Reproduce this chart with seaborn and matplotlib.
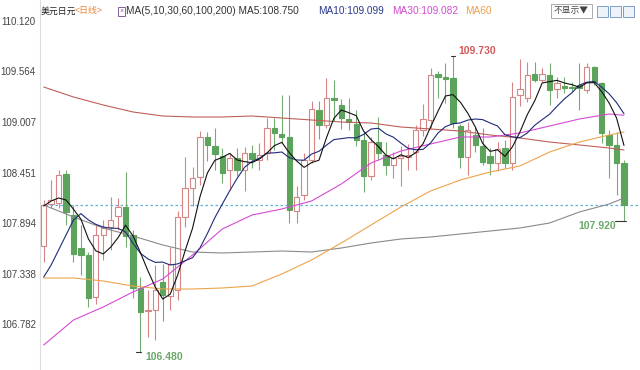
import numpy as np
import matplotlib
matplotlib.use("Agg")
import matplotlib.pyplot as plt
import seaborn as sns
from matplotlib.patches import Rectangle

# daily USD/JPY candles
opens = [107.644, 108.106, 108.117, 108.436, 107.985, 107.622, 107.545, 107.083, 107.765, 107.853,
         107.974, 108.073, 107.765, 107.182, 106.929, 106.940, 107.248, 107.094, 107.160, 107.963,
         108.282, 108.403, 108.843, 108.744, 108.634, 108.480, 108.612, 108.480, 108.667, 108.590,
         108.667, 108.942, 108.876, 108.843, 108.029, 108.205, 108.590, 109.140, 108.975, 109.272,
         109.195, 109.041, 108.986, 108.810, 108.414, 108.788, 108.645, 108.535, 108.612, 108.623,
         108.678, 108.920, 109.030, 109.536, 109.503, 109.492, 108.964, 108.623, 108.865, 108.744,
         108.634, 108.557, 108.722, 108.557, 109.305, 109.272, 109.536, 109.470, 109.525, 109.371,
         109.404, 109.393, 109.415, 109.360, 109.613, 109.437, 108.865, 108.755, 108.557]
closes = [108.095, 108.150, 108.425, 108.018, 107.556, 107.545, 107.072, 107.765, 107.842, 107.930,
          108.073, 107.754, 107.182, 106.918, 106.940, 107.160, 107.105, 107.446, 107.963, 108.282,
          108.392, 108.843, 108.755, 108.656, 108.447, 108.612, 108.480, 108.667, 108.601, 108.645,
          108.942, 108.887, 108.843, 108.040, 108.183, 108.590, 109.151, 108.975, 109.272, 109.250,
          109.052, 109.008, 108.810, 108.414, 108.788, 108.667, 108.535, 108.612, 108.634, 108.645,
          108.920, 109.041, 109.525, 109.503, 109.481, 108.997, 108.623, 108.920, 108.755, 108.568,
          108.557, 108.711, 108.557, 109.283, 109.371, 109.525, 109.470, 109.536, 109.360, 109.437,
          109.382, 109.382, 109.382, 109.613, 109.448, 108.887, 108.755, 108.557, 108.095]
highs = [108.150, 108.370, 108.480, 108.480, 108.095, 107.875, 107.578, 107.875, 107.930, 108.183,
         108.172, 108.458, 107.820, 107.303, 107.160, 107.435, 107.446, 107.633, 108.029, 108.623,
         108.513, 108.909, 108.898, 108.942, 108.722, 108.667, 108.722, 108.733, 108.755, 108.777,
         109.052, 109.052, 109.305, 109.305, 108.304, 108.667, 109.239, 109.239, 109.492, 109.470,
         109.261, 109.272, 109.140, 108.898, 108.843, 109.063, 108.788, 108.678, 108.744, 108.766,
         108.975, 109.206, 109.602, 109.569, 109.657, 109.730, 108.986, 109.008, 108.953, 108.942,
         108.722, 108.788, 108.810, 109.448, 109.701, 109.668, 109.668, 109.602, 109.657, 109.503,
         109.503, 109.448, 109.657, 109.657, 109.624, 109.448, 108.920, 108.898, 108.590]
lows = [107.468, 108.062, 108.062, 107.875, 107.468, 107.325, 106.973, 107.006, 107.490, 107.600,
        107.820, 107.633, 107.072, 106.480, 106.643, 106.610, 106.819, 106.940, 107.050, 107.853,
        108.084, 108.315, 108.579, 108.480, 108.337, 108.260, 108.414, 108.249, 108.502, 108.480,
        108.590, 108.700, 108.777, 107.897, 107.897, 108.150, 108.557, 108.821, 108.942, 109.019,
        108.931, 108.920, 108.744, 108.238, 108.370, 108.590, 108.425, 108.392, 108.304, 108.480,
        108.480, 108.854, 108.942, 109.272, 109.217, 108.942, 108.502, 108.425, 108.678, 108.535,
        108.425, 108.469, 108.502, 108.480, 109.184, 109.228, 109.448, 109.448, 109.195, 109.272,
        109.327, 109.338, 109.140, 109.327, 109.415, 108.777, 108.392, 108.205, 107.920]

# moving averages read at every candle
ma5 = [108.084, 108.139, 108.172, 108.150, 108.049, 107.939, 107.723, 107.591, 107.556, 107.631,
       107.736, 107.873, 107.756, 107.571, 107.373, 107.191, 107.061, 107.114, 107.323, 107.591,
       107.838, 108.185, 108.447, 108.586, 108.619, 108.663, 108.590, 108.572, 108.561, 108.601,
       108.667, 108.748, 108.784, 108.671, 108.579, 108.509, 108.561, 108.588, 108.834, 109.048,
       109.140, 109.111, 109.078, 108.907, 108.814, 108.737, 108.643, 108.603, 108.647, 108.619,
       108.669, 108.770, 108.953, 109.127, 109.294, 109.309, 109.226, 109.105, 108.955, 108.773,
       108.685, 108.702, 108.630, 108.735, 108.896, 109.089, 109.241, 109.437, 109.452, 109.466,
       109.437, 109.419, 109.389, 109.439, 109.441, 109.342, 109.217, 109.052, 108.750]
ma10 = [107.303, 107.435, 107.600, 107.765, 107.930, 108.000, 107.931, 107.882, 107.853, 107.840,
        107.838, 107.798, 107.674, 107.564, 107.502, 107.464, 107.467, 107.435, 107.447, 107.482,
        107.515, 107.623, 107.781, 107.955, 108.105, 108.251, 108.388, 108.510, 108.574, 108.610,
        108.665, 108.669, 108.678, 108.616, 108.590, 108.588, 108.655, 108.686, 108.753, 108.814,
        108.825, 108.836, 108.833, 108.871, 108.931, 108.939, 108.877, 108.841, 108.777, 108.717,
        108.703, 108.707, 108.778, 108.887, 108.957, 108.989, 108.998, 109.029, 109.041, 109.034,
        108.997, 108.964, 108.868, 108.845, 108.835, 108.887, 108.972, 109.034, 109.094, 109.181,
        109.263, 109.330, 109.413, 109.446, 109.454, 109.390, 109.318, 109.221, 109.099]

# slower averages read every 4th candle
ma_idx = [0, 4, 8, 12, 16, 20, 24, 28, 32, 36, 40, 44, 48, 52, 56, 60, 64, 68, 72, 76, 78]
ma30 = [106.555, 106.830, 106.973, 107.138, 107.281, 107.545, 107.831, 107.985, 108.051, 108.139, 108.326,
        108.557, 108.689, 108.766, 108.843, 108.843, 108.887, 108.964, 109.041, 109.096, 109.082]
ma60 = [107.292, 107.292, 107.259, 107.204, 107.171, 107.171, 107.182, 107.204, 107.336, 107.490, 107.677,
        107.875, 108.073, 108.249, 108.370, 108.458, 108.524, 108.678, 108.788, 108.865, 108.898]
ma100 = [108.095, 107.963, 107.842, 107.754, 107.655, 107.578, 107.567, 107.578, 107.589, 107.578, 107.622,
         107.677, 107.721, 107.743, 107.776, 107.809, 107.842, 107.897, 108.018, 108.106, 108.172]
ma200 = [109.393, 109.283, 109.195, 109.118, 109.074, 109.063, 109.063, 109.074, 109.052, 109.030, 109.008,
         108.997, 108.953, 108.931, 108.909, 108.865, 108.832, 108.788, 108.755, 108.722, 108.700]

y_ticks = [110.120, 109.564, 109.007, 108.451, 107.894, 107.338, 106.782]

sns.set_style("white")
plt.rcParams['font.family'] = ['Liberation Sans', 'Noto Sans CJK SC', 'DejaVu Sans']

fig = plt.figure(figsize=(6.4, 3.7), dpi=100)
ax = fig.add_axes([40 / 640, 0, 600 / 640, 1])

o = np.array(opens)
c = np.array(closes)
h = np.array(highs)
l = np.array(lows)
x = np.arange(len(c))
up = c >= o
body_lo = np.minimum(o, c)
body_hi = np.maximum(o, c)
heights = np.maximum(body_hi - body_lo, 0.006)

red = '#d58585'
green = '#5ca35c'
wick_col = np.where(up, red, '#74ad74')

# wicks, then bodies
ax.vlines(x, body_hi, h, colors=wick_col, lw=0.8, zorder=2)
ax.vlines(x, l, body_lo, colors=wick_col, lw=0.8, zorder=2)
ax.bar(x[up], heights[up], bottom=body_lo[up], width=0.72, color='white',
       edgecolor=red, linewidth=0.8, zorder=3)
ax.bar(x[~up], heights[~up], bottom=body_lo[~up], width=0.72, color=green,
       edgecolor=green, linewidth=0.8, zorder=3)

# moving averages
sns.lineplot(x=ma_idx, y=ma200, ax=ax, color='#bf5f5a', linewidth=0.8, zorder=4)
sns.lineplot(x=ma_idx, y=ma100, ax=ax, color='#8a8a8a', linewidth=0.8, zorder=4)
sns.lineplot(x=ma_idx, y=ma60, ax=ax, color='#eda44c', linewidth=0.8, zorder=4)
sns.lineplot(x=ma_idx, y=ma30, ax=ax, color='#d64ad6', linewidth=0.8, zorder=4)
sns.lineplot(x=np.arange(len(ma10)), y=ma10, ax=ax, color='#1f2b78', linewidth=0.8, zorder=5)
sns.lineplot(x=np.arange(len(ma5)), y=ma5, ax=ax, color='#111111', linewidth=0.8, zorder=6)

# last price line
ax.axhline(closes[-1], color='#5fb2d6', lw=0.9, ls=(0, (2, 2)), zorder=1)

# extreme markers
hi_i = int(np.argmax(h))
lo_i = int(np.argmin(l))
ax.plot([hi_i - 0.3, hi_i + 0.3], [h[hi_i], h[hi_i]], color='#333333', lw=0.8, zorder=7)
ax.text(hi_i + 0.75, h[hi_i] + 0.055, f"{h[hi_i]:.3f}", color='#d25c5c', fontsize=7.5,
        fontweight='bold', ha='left', va='center')
ax.plot([lo_i - 0.6, lo_i + 0.1], [l[lo_i], l[lo_i]], color='#333333', lw=0.8, zorder=7)
ax.text(lo_i + 0.7, l[lo_i] - 0.055, f"{l[lo_i]:.3f}", color='#6aa86a', fontsize=7.5,
        fontweight='bold', ha='left', va='center')
n = len(c) - 1
ax.plot([n - 1.2, n + 0.3], [l[n], l[n]], color='#333333', lw=0.8, zorder=7)
ax.text(n - 1.05, l[n] - 0.06, f"{l[n]:.3f}", color='#6aa86a', fontsize=7.5,
        fontweight='bold', ha='right', va='center')

ax.set_xlim(-0.5, 80.15)
ax.set_ylim(106.28, 110.35)
ax.set_xticks([])
ax.set_yticks(y_ticks)
ax.set_yticklabels([f"{v:.3f}" for v in y_ticks])
ax.tick_params(axis='y', length=0, pad=3, labelsize=7, labelcolor='#444444')
for s in ['top', 'right', 'bottom']:
    ax.spines[s].set_visible(False)
ax.spines['left'].set_color('#dddddd')
ax.spines['left'].set_linewidth(0.8)


def px(xp, yp):
    return xp / 640, 1 - yp / 370


# header row
fig.text(*px(41, 11), "美元日元", fontsize=6.4, color='#222222', va='center')
fig.text(*px(75, 11), "<日线>", fontsize=6.4, color='#e8843c', va='center')
fig.patches.append(Rectangle(px(118, 16), 7 / 640, 9 / 370, transform=fig.transFigure,
                             fill=False, edgecolor='#8a5a9a', lw=0.7))
fig.text(*px(121.5, 11.5), "×", fontsize=5, color='#8a5a9a', va='center', ha='center')
fig.text(*px(126.5, 11), "MA(5,10,30,60,100,200) MA5:108.750", fontsize=7.3, color='#333333', va='center')
fig.text(*px(318, 11), "MA10:109.099", fontsize=7.3, color='#2b3a8c', va='center')
fig.text(*px(392, 11), "MA30:109.082", fontsize=7.3, color='#d24bd2', va='center')
fig.text(*px(465, 11), "MA60", fontsize=7.3, color='#e8a050', va='center')

fig.patches.append(Rectangle(px(551, 18), 41 / 640, 14 / 370, transform=fig.transFigure,
                             fill=False, edgecolor='#aaaaaa', lw=0.7))
fig.text(*px(571.5, 11), "不显示▼", fontsize=6.3, color='#444444', va='center', ha='center',
         family=['Noto Sans CJK SC', 'DejaVu Sans'])
for xi in [597, 610, 623]:
    fig.patches.append(Rectangle(px(xi, 17), 11 / 640, 11 / 370, transform=fig.transFigure,
                                 facecolor='#eef3fa', edgecolor='#7f9fc8', lw=0.7))

fig.savefig("out.png", dpi=100)
